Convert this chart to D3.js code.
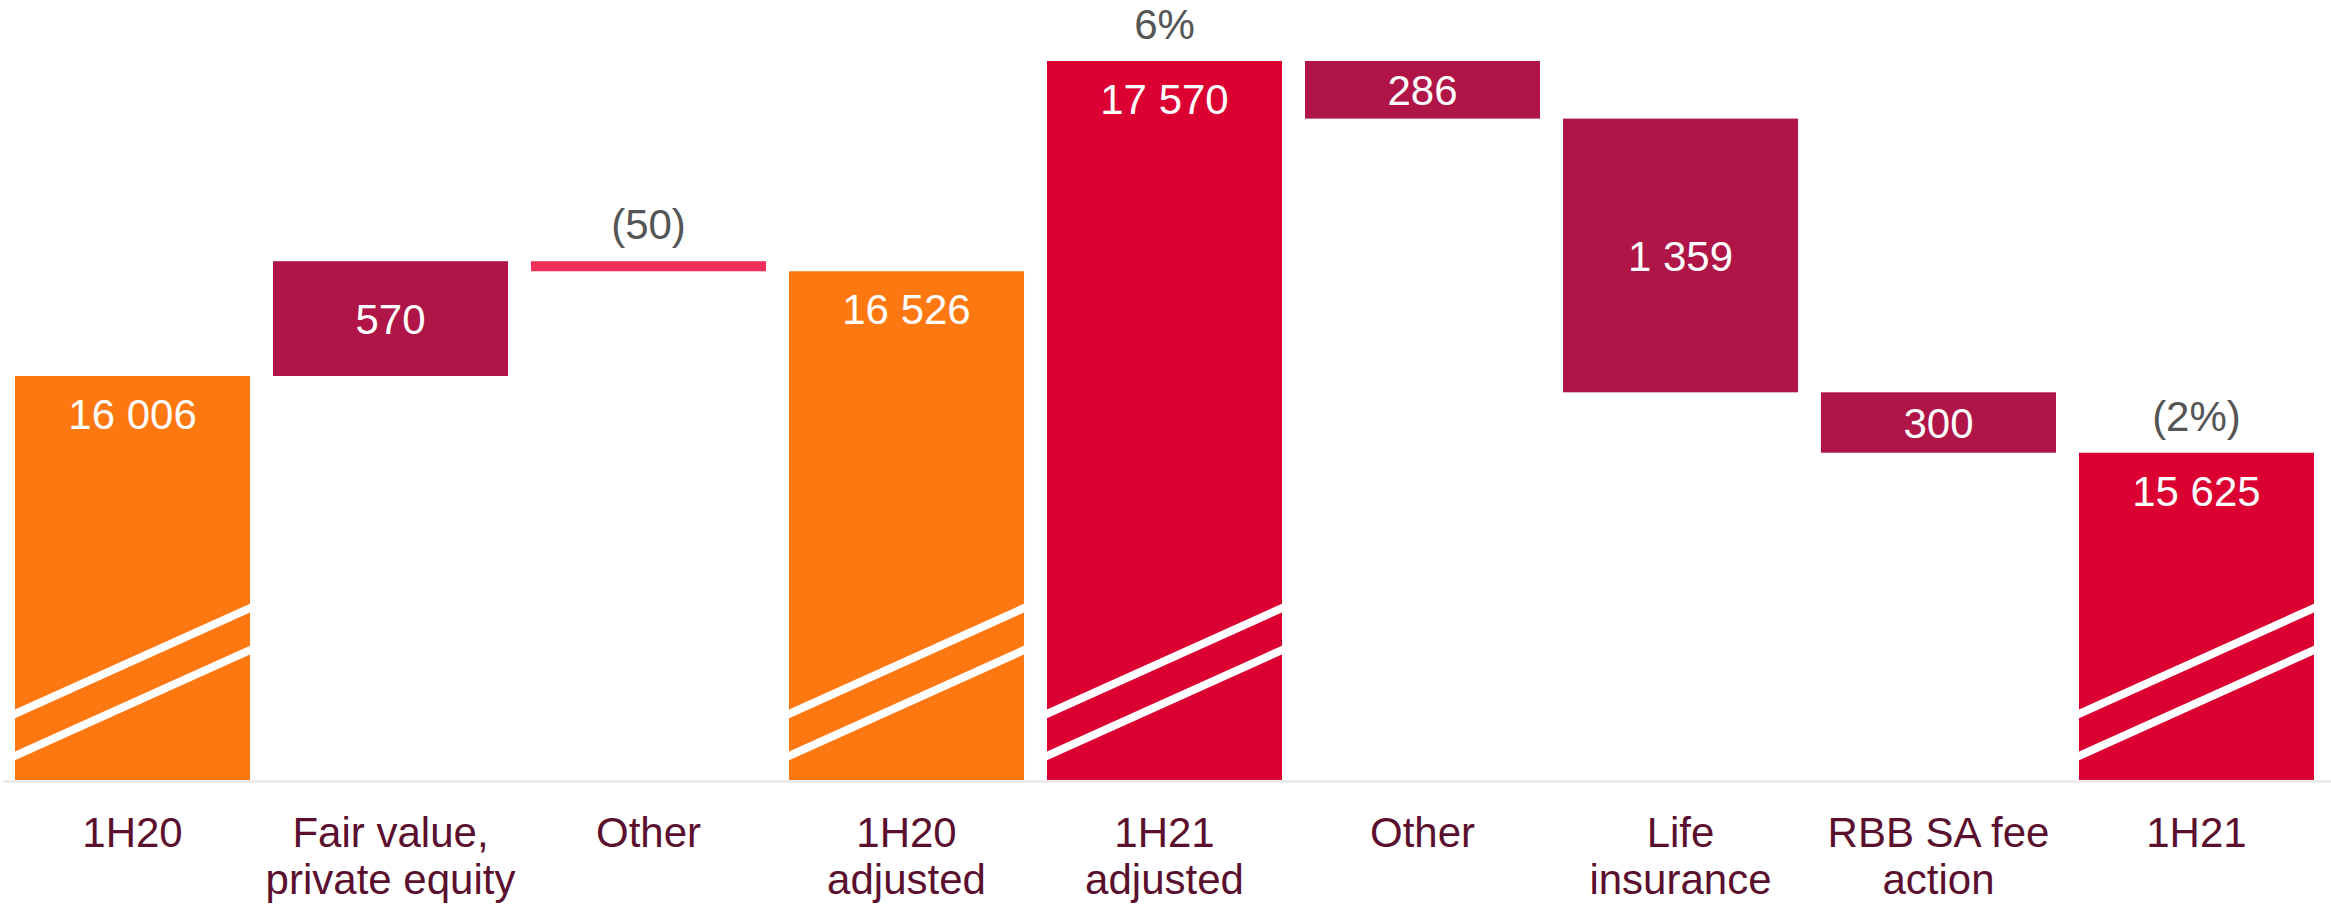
<!DOCTYPE html>
<html>
<head>
<meta charset="utf-8">
<script src="https://cdn.jsdelivr.net/npm/d3@7"></script>
<style>
  html, body { margin: 0; padding: 0; background: #fff; }
  svg { display: block; font-family: "Liberation Sans", Arial, sans-serif; }
</style>
</head>
<body>
<svg id="chart" width="2331" height="908"></svg>
<script>
// ---- data ----
const categories = [
  ["1H20"],
  ["Fair value,", "private equity"],
  ["Other"],
  ["1H20", "adjusted"],
  ["1H21", "adjusted"],
  ["Other"],
  ["Life", "insurance"],
  ["RBB SA fee", "action"],
  ["1H21"]
];
const values = [16006, 570, -50, 16526, 17570, -286, -1359, -300, 15625];
const kinds = ["total20", "delta", "deltaSmall", "total20", "total21", "delta", "delta", "delta", "total21"];
const valueLabels = ["16 006", "570", "", "16 526", "17 570", "286", "1 359", "300", "15 625"];
const topLabels = ["", "", "(50)", "", "6%", "", "", "", "(2%)"];
const axisMin = 14000;

// ---- layout ----
const W = 2331, H = 908;
const baseY = 780;
const svg = d3.select("#chart");

const x = d3.scaleBand()
  .domain(d3.range(categories.length))
  .range([15, 2314])
  .paddingInner(0.089)
  .paddingOuter(0);

const y = d3.scaleLinear()
  .domain([axisMin, 17570])
  .range([baseY, 61]);

const colors = {
  total20: "#FE7811",
  total21: "#DC0032",
  delta: "#B01548",
  deltaSmall: "#F0305A"
};

// build waterfall segments
let running = 0;
const bars = values.map((v, i) => {
  const k = kinds[i];
  let lo, hi;
  if (k.startsWith("total")) {
    lo = axisMin; hi = v; running = v;
  } else {
    const start = running, end = running + v;
    lo = Math.min(start, end); hi = Math.max(start, end);
    running = end;
  }
  return { i, k, lo, hi, v };
});

// axis baseline
svg.append("line")
  .attr("x1", 4).attr("x2", W)
  .attr("y1", baseY + 1.5).attr("y2", baseY + 1.5)
  .attr("stroke", "#E3E3E3").attr("stroke-width", 2);

// defs for clipping break slashes
const defs = svg.append("defs");

const g = svg.append("g");
bars.forEach(b => {
  const x0 = x(b.i), bw = x.bandwidth();
  const yTop = y(b.hi), yBot = y(b.lo);
  g.append("rect")
    .attr("x", x0).attr("y", yTop)
    .attr("width", bw).attr("height", Math.max(yBot - yTop, 1))
    .attr("fill", colors[b.k]);

  if (b.k.startsWith("total")) {
    // axis break slashes
    const cid = "clip" + b.i;
    defs.append("clipPath").attr("id", cid)
      .append("rect").attr("x", x0).attr("y", yTop).attr("width", bw).attr("height", yBot - yTop);
    const off = [0, 42];
    off.forEach(o => {
      g.append("line")
        .attr("clip-path", "url(#" + cid + ")")
        .attr("x1", x0 - 5).attr("y1", baseY - 66 + o + 2.2)
        .attr("x2", x0 + bw + 5).attr("y2", baseY - 172 + o - 2.2)
        .attr("stroke", "#fff").attr("stroke-width", 8);
    });
  }
});

// value labels
const cx = i => x(i) + x.bandwidth() / 2;
bars.forEach(b => {
  const lbl = valueLabels[b.i];
  if (!lbl) return;
  let ty;
  if (b.k.startsWith("total")) ty = y(b.hi) + 53;
  else ty = (y(b.hi) + y(b.lo)) / 2 + 15.5;
  svg.append("text")
    .attr("x", cx(b.i)).attr("y", ty)
    .attr("text-anchor", "middle")
    .attr("font-size", 42)
    .attr("fill", "#fff")
    .text(lbl);
});

// top labels (growth / small deltas)
bars.forEach(b => {
  const lbl = topLabels[b.i];
  if (!lbl) return;
  svg.append("text")
    .attr("x", cx(b.i)).attr("y", y(b.hi) - 22)
    .attr("text-anchor", "middle")
    .attr("font-size", 42)
    .attr("fill", "#555555")
    .text(lbl);
});

// category labels
categories.forEach((lines, i) => {
  const t = svg.append("text")
    .attr("x", cx(i)).attr("y", 847)
    .attr("text-anchor", "middle")
    .attr("font-size", 42)
    .attr("fill", "#5B0F2E");
  lines.forEach((ln, j) => {
    t.append("tspan").attr("x", cx(i)).attr("dy", j === 0 ? 0 : 46.5).text(ln);
  });
});
</script>
</body>
</html>
